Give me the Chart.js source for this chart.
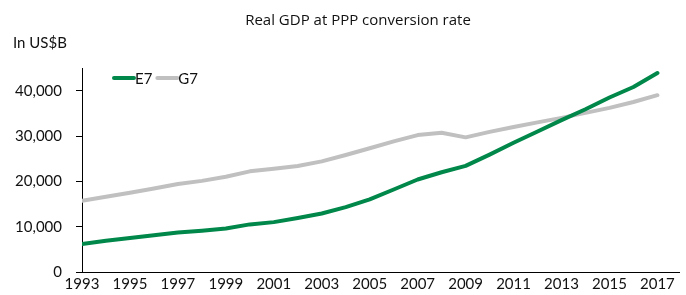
<!DOCTYPE html>
<html>
<head>
<meta charset="utf-8">
<script src="https://cdn.jsdelivr.net/npm/chart.js@4/dist/chart.umd.min.js"></script>
<style>
  html, body { margin: 0; padding: 0; background: #fff; }
  canvas { display: block; }
</style>
</head>
<body>
<canvas id="chart" width="686" height="295"></canvas>
<script>
const years = [1993, 1994, 1995, 1996, 1997, 1998, 1999, 2000, 2001, 2002, 2003, 2004, 2005,
  2006, 2007, 2008, 2009, 2010, 2011, 2012, 2013, 2014, 2015, 2016, 2017];
const e7 = [6150, 6900, 7500, 8100, 8700, 9100, 9600, 10500, 11000, 11900, 12900, 14300, 16000,
  18200, 20400, 22000, 23400, 25900, 28500, 31000, 33500, 35900, 38500, 40800, 43900];
const g7 = [15700, 16600, 17500, 18400, 19400, 20100, 21000, 22200, 22800, 23400, 24400, 25800, 27300,
  28800, 30200, 30700, 29700, 30900, 32000, 33000, 34000, 35100, 36200, 37500, 39000];
const yTicks = [0, 10000, 20000, 30000, 40000];
const xTicks = [1993, 1995, 1997, 1999, 2001, 2003, 2005, 2007, 2009, 2011, 2013, 2015, 2017];

const FONT = "Lato, 'Open Sans', sans-serif";

// title, unit label and the little legend inside the plot
const textPlugin = {
  id: 'texts',
  afterDraw(chart) {
    const ctx = chart.ctx;
    const area = chart.chartArea;
    ctx.save();
    ctx.fillStyle = '#111';
    ctx.textBaseline = 'middle';
    ctx.font = "15px 'Open Sans', sans-serif";
    ctx.textAlign = 'center';
    ctx.fillText('Real GDP at PPP conversion rate', 358, 21);
    ctx.font = '15px ' + FONT;
    ctx.textAlign = 'left';
    ctx.fillText('In US$B', 13, 43);

    let x = area.left + 31;
    const y = area.top + 10;
    chart.data.datasets.forEach(ds => {
      ctx.strokeStyle = ds.borderColor;
      ctx.lineWidth = 4;
      ctx.lineCap = 'round';
      ctx.beginPath();
      ctx.moveTo(x + 1, y);
      ctx.lineTo(x + 21, y);
      ctx.stroke();
      x += 22;
      ctx.fillStyle = '#111';
      ctx.fillText(ds.label, x, y + 1);
      x += ctx.measureText(ds.label).width + 4;
    });
    ctx.restore();
  }
};

new Chart(document.getElementById('chart'), {
  type: 'line',
  data: {
    datasets: [
      {
        label: 'E7',
        data: years.map((yr, i) => ({ x: yr, y: e7[i] })),
        borderColor: '#00874a',
        borderWidth: 4,
        borderCapStyle: 'round',
        borderJoinStyle: 'round',
        pointRadius: 0,
        tension: 0,
        fill: false
      },
      {
        label: 'G7',
        data: years.map((yr, i) => ({ x: yr, y: g7[i] })),
        borderColor: '#c0c0c0',
        borderWidth: 4,
        borderCapStyle: 'round',
        borderJoinStyle: 'round',
        pointRadius: 0,
        tension: 0,
        fill: false
      }
    ]
  },
  options: {
    responsive: false,
    animation: false,
    layout: { padding: { top: 68, right: 7, left: 0, bottom: 0 } },
    plugins: {
      legend: { display: false },
      title: { display: false },
      tooltip: { enabled: false }
    },
    scales: {
      x: {
        type: 'linear',
        min: 1993,
        max: 2017.9,
        afterBuildTicks(scale) { scale.ticks = xTicks.map(v => ({ value: v })); },
        afterFit(scale) { scale.height = 23; },
        grid: { display: false, drawTicks: false },
        border: { display: true, color: '#000', width: 1 },
        ticks: {
          color: '#111',
          font: { family: FONT, size: 15 },
          padding: 3,
          maxRotation: 0,
          autoSkip: false,
          callback: v => String(v)
        }
      },
      y: {
        min: 0,
        max: 45000,
        afterBuildTicks(scale) { scale.ticks = yTicks.map(v => ({ value: v })); },
        afterFit(scale) { scale.width = 82; },
        grid: { drawOnChartArea: false, drawTicks: true, tickLength: 6, color: '#000' },
        border: { display: true, color: '#000', width: 1 },
        ticks: {
          color: '#111',
          font: { family: FONT, size: 15 },
          padding: 14,
          callback: v => v.toLocaleString('en-US')
        }
      }
    }
  },
  plugins: [textPlugin]
});
</script>
</body>
</html>
